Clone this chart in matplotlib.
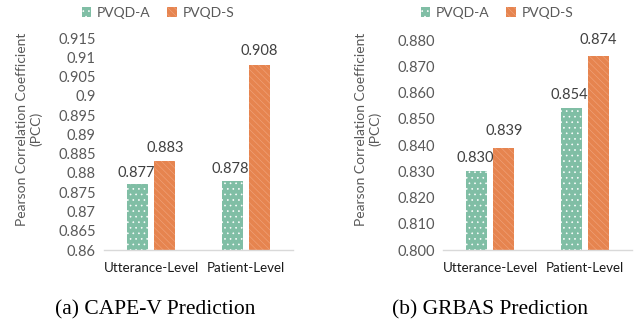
import numpy as np
import matplotlib.pyplot as plt
from matplotlib.patches import Patch

plt.rcParams['font.family'] = ['Lato', 'DejaVu Sans']
plt.rcParams['hatch.linewidth'] = 0.45

categories = ['Utterance-Level', 'Patient-Level']
series = ['PVQD-A', 'PVQD-S']

cape_a = [0.877, 0.878]
cape_s = [0.883, 0.908]
cape_ticks = [0.86, 0.865, 0.87, 0.875, 0.88, 0.885, 0.89, 0.895, 0.9, 0.905, 0.91, 0.915]
cape_ticklabels = ['0.86', '0.865', '0.87', '0.875', '0.88', '0.885', '0.89', '0.895',
                   '0.9', '0.905', '0.91', '0.915']

grbas_a = [0.830, 0.854]
grbas_s = [0.839, 0.874]
grbas_ticks = [0.80, 0.81, 0.82, 0.83, 0.84, 0.85, 0.86, 0.87, 0.88]

green = '#80bea5'
orange = '#e6844f'
tick_col = '#595959'
W, H = 636, 325

fig = plt.figure(figsize=(W / 100, H / 100), dpi=100)


def px_axes(x0, y0, x1, y1):
    return fig.add_axes([x0 / W, 1 - y1 / H, (x1 - x0) / W, (y1 - y0) / H])


def draw(ax, a_vals, s_vals, ticks, ticklabels, fmt):
    x = np.arange(len(categories))
    bw, off = 0.222, 0.143
    step = ticks[1] - ticks[0]
    ax.bar(x - off, a_vals, bw, color=green, edgecolor='white', linewidth=0, hatch='...')
    ax.bar(x + off, s_vals, bw, color=orange, edgecolor='#f0a27a', linewidth=0,
           hatch='\\\\\\\\\\')
    for xi, v in zip(x - off, a_vals):
        ax.text(xi - 0.02, v + step * 0.25, fmt.format(v), ha='center', va='bottom',
                fontsize=10.5, color='#404040')
    for xi, v in zip(x + off, s_vals):
        ax.text(xi, v + step * 0.35, fmt.format(v), ha='center', va='bottom',
                fontsize=10.5, color='#404040')
    ax.set_xlim(-0.5, 1.5)
    ax.set_ylim(ticks[0], ticks[-1])
    ax.set_yticks(ticks)
    ax.set_yticklabels(ticklabels, color=tick_col, fontsize=10.5)
    ax.set_xticks(x)
    ax.set_xticklabels(categories, fontsize=9.6, color='#1a1a1a')
    ax.tick_params(length=0, pad=6)
    ax.tick_params(axis='x', pad=9)
    for s in ['top', 'right', 'left']:
        ax.spines[s].set_visible(False)
    ax.spines['bottom'].set_color('#d9d9d9')
    ax.spines['bottom'].set_linewidth(1)


ax1 = px_axes(104, 38, 293, 250)
draw(ax1, cape_a, cape_s, cape_ticks, cape_ticklabels, '{:g}')

ax2 = px_axes(443, 40, 632, 250)
draw(ax2, grbas_a, grbas_s, grbas_ticks, ['{:.3f}'.format(t) for t in grbas_ticks], '{:.3f}')

handles = [Patch(facecolor=green, edgecolor='white', linewidth=0, hatch='...'),
           Patch(facecolor=orange, edgecolor='#f0a27a', linewidth=0, hatch='\\\\\\\\\\')]
for cx in [158, 497]:
    fig.legend(handles, series, loc='center', bbox_to_anchor=(cx / W, 1 - 13 / H), ncol=2,
               frameon=False, fontsize=10, handlelength=0.7, handleheight=0.7,
               handletextpad=0.4, columnspacing=1.2, labelcolor=tick_col)

for cx in [29, 368]:
    fig.text(cx / W, 1 - 129 / H, 'Pearson Correlation Coefficient\n(PCC)', rotation=90,
             ha='center', va='center', fontsize=10, color=tick_col, linespacing=1.15)

fig.text(155 / W, 1 - 310 / H, '(a) CAPE-V Prediction', ha='center', va='center',
         fontsize=15.5, family='Liberation Serif')
fig.text(490 / W, 1 - 310 / H, '(b) GRBAS Prediction', ha='center', va='center',
         fontsize=15.5, family='Liberation Serif')

fig.savefig('out.png', dpi=100)
